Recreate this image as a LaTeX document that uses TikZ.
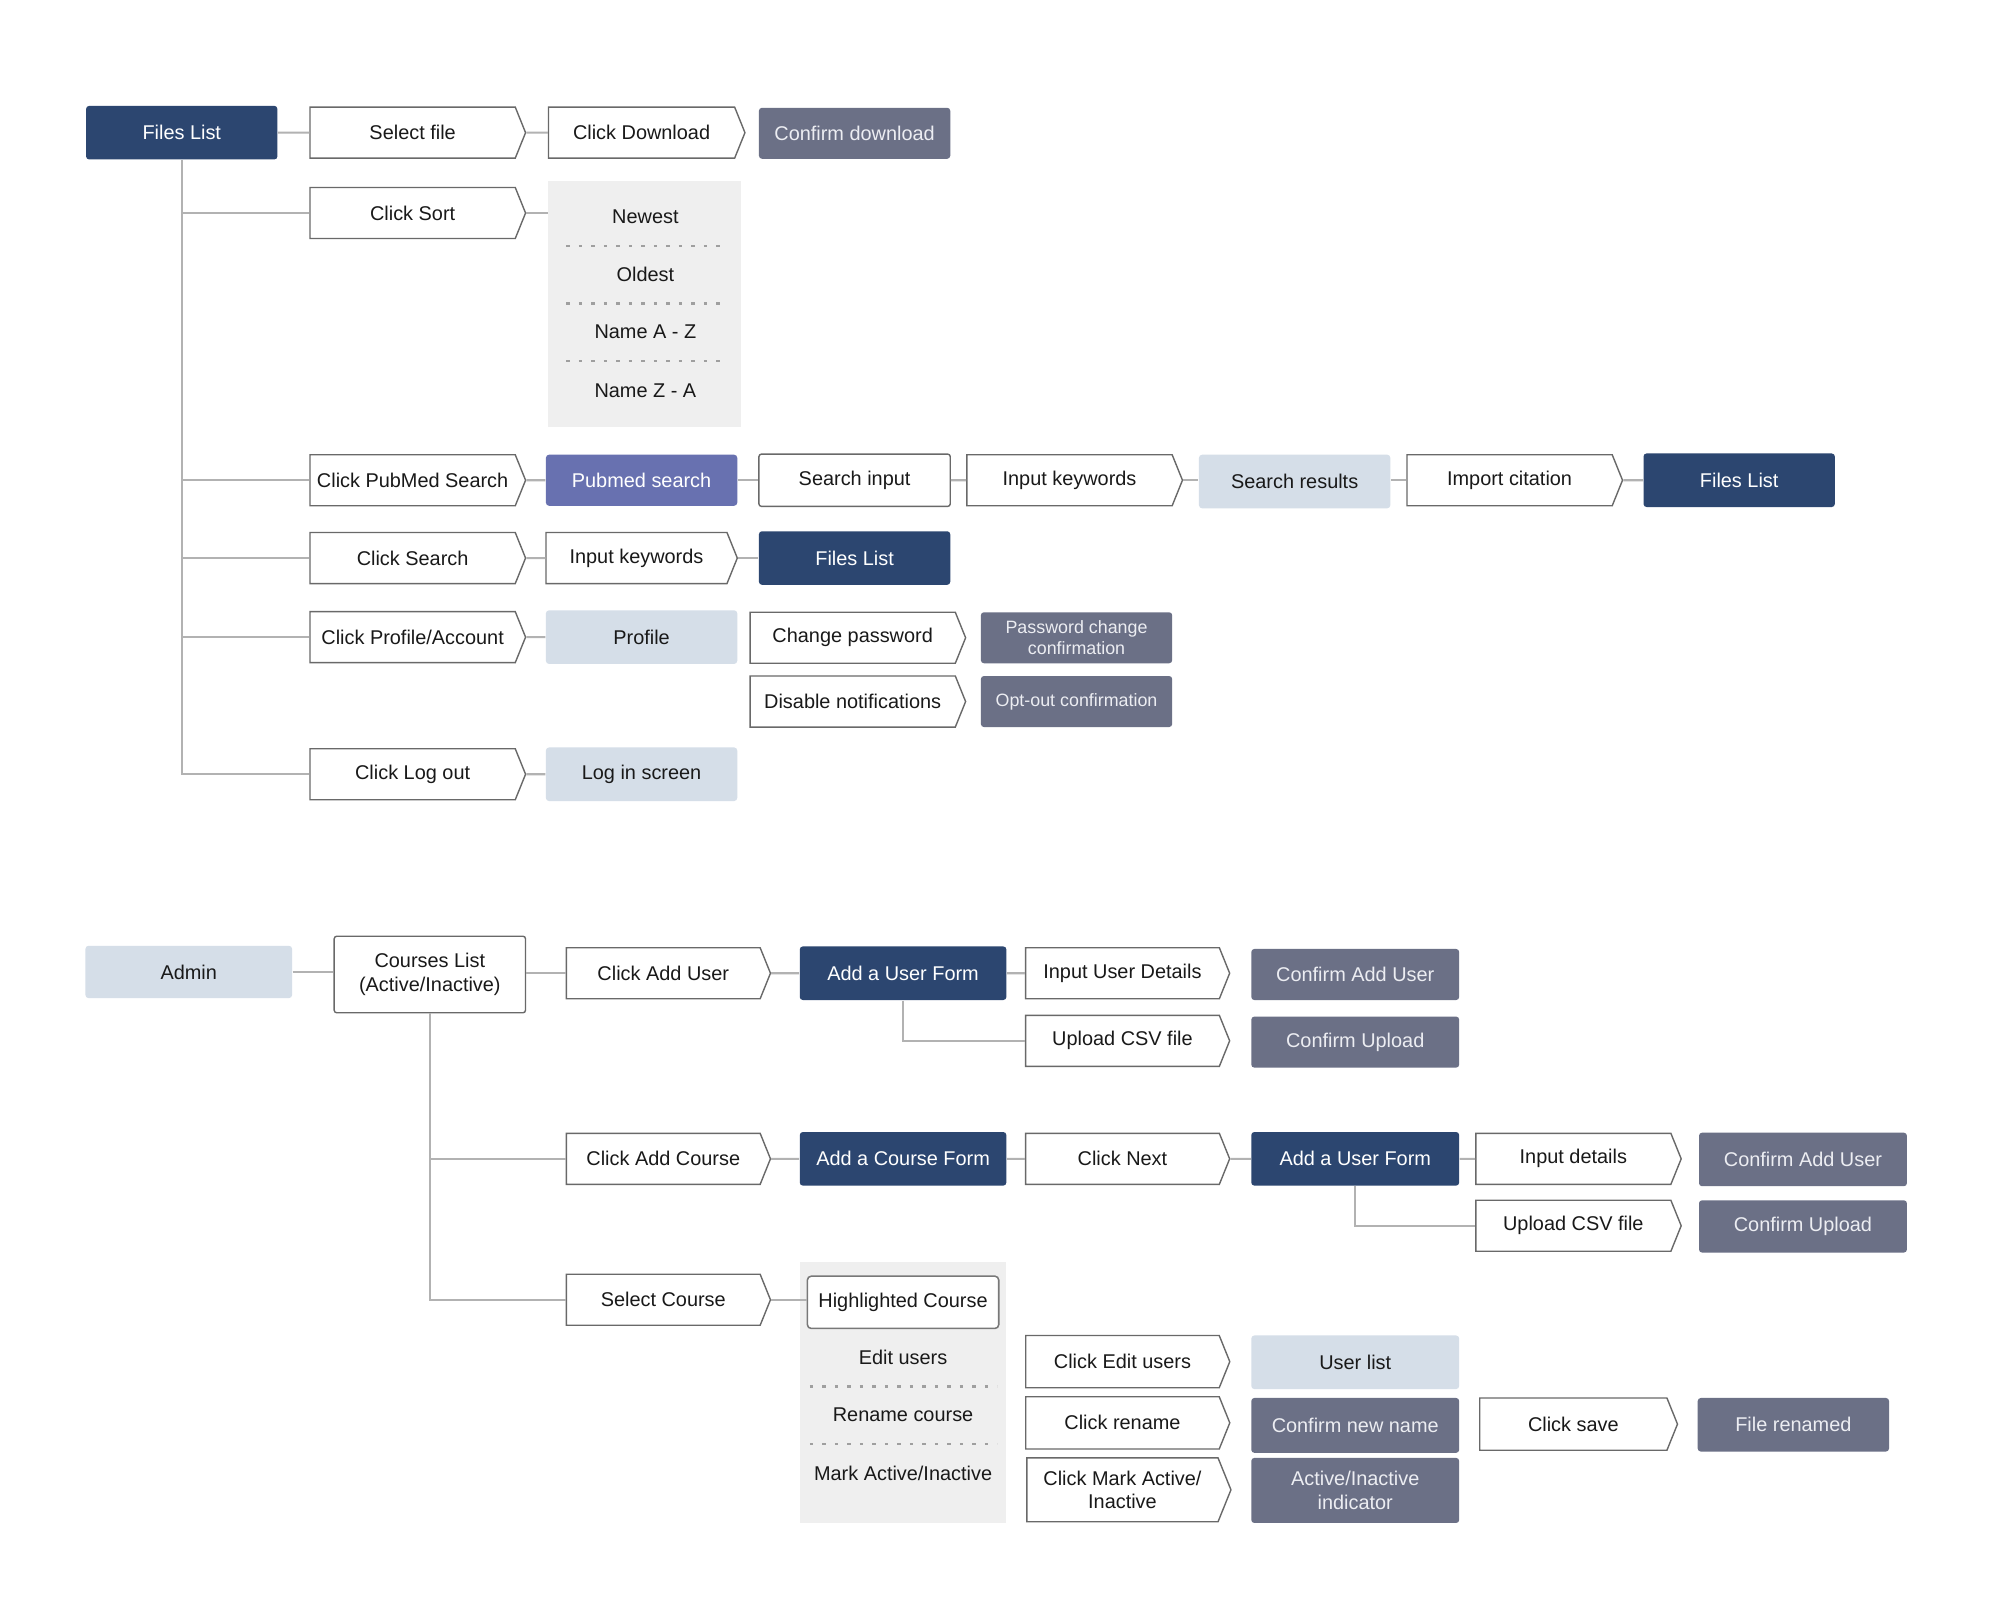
\documentclass[tikz,border=0pt]{standalone}
\usepackage{fontspec}
\setmainfont{Liberation Sans}
\usetikzlibrary{shapes.symbols}
\definecolor{navy}{RGB}{44,70,112}
\definecolor{slate}{RGB}{107,112,134}
\definecolor{purp}{RGB}{104,113,176}
\definecolor{lblue}{RGB}{213,222,232}
\definecolor{panelgray}{RGB}{239,239,239}
\definecolor{bord}{RGB}{105,105,105}
\definecolor{conn}{RGB}{178,178,178}
\definecolor{txt}{RGB}{25,25,25}
\definecolor{slatetxt}{RGB}{236,237,242}
\begin{document}
\begin{tikzpicture}[x=0.5pt,y=-0.5pt,
  base/.style={inner sep=0pt, font=\fontsize{7.8}{9.2}\selectfont, align=center},
  small/.style={font=\fontsize{7}{8.2}\selectfont},
  chev/.style={base, signal, signal to=east, signal pointer angle=136, draw=bord, line width=0.55pt, fill=white, text=txt, minimum width=84.5pt, minimum height=20pt, xshift=-2pt},
  plainbox/.style={base, rectangle, draw=bord, line width=0.55pt, fill=white, rounded corners=1pt, text=txt, minimum width=75pt, minimum height=20.5pt},
  navybox/.style={base, rectangle, fill=navy, text=white, rounded corners=1.2pt, minimum width=75pt, minimum height=21pt},
  slatebox/.style={base, rectangle, fill=slate, text=slatetxt, rounded corners=1.2pt, minimum width=75pt, minimum height=20pt},
  purpbox/.style={base, rectangle, fill=purp, text=white, rounded corners=1.2pt, minimum width=75pt, minimum height=20pt},
  lbox/.style={base, rectangle, fill=lblue, text=txt, rounded corners=1.2pt, minimum width=75pt, minimum height=21pt},
  panel/.style={rectangle, fill=panelgray, inner sep=0pt},
  item/.style={base, text=txt},
  conn/.style={draw=conn, line width=0.8pt},
  sep/.style={draw=gray!75, line width=0.9pt, dash pattern=on 1.3pt off 3.6pt}
]
\useasboundingbox[fill=white] (0,0) rectangle (1568,1254);

% ---------- top section ----------
\node[navybox] (fl1) at (142.5,104) {Files List};
\node[chev] (sf) at (327.5,104) {Select file};
\node[chev, minimum width=77pt] (cd) at (507,104) {Click Download};
\node[slatebox] (cdl) at (670,104.5) {Confirm download};

\node[chev] (cs) at (327.5,167) {Click Sort};
\node[panel, minimum width=75.5pt, minimum height=96.5pt] (sortp) at (505.5,238.5) {};
\node[item] (s1) at (506,170) {Newest};
\node[item] (s2) at (506,215) {Oldest};
\node[item] (s3) at (506,260) {Name A - Z};
\node[item] (s4) at (506,306) {Name Z - A};
\draw[sep] (444,193) -- (567,193);
\draw[sep] (444,238) -- (567,238);
\draw[sep] (444,283) -- (567,283);

\node[chev] (cps) at (327.5,376.5) {Click PubMed Search};
\node[purpbox] (ps) at (503,376.5) {Pubmed search};
\node[plainbox] (si) at (670,376.5) {Search input};
\node[chev] (ik1) at (842.5,376.5) {Input keywords};
\node[lbox] (sr) at (1015,377.5) {Search results};
\node[chev] (ic) at (1187.5,376.5) {Import citation};
\node[navybox] (fl2) at (1363.5,376.5) {Files List};

\node[chev] (cse) at (327.5,437.5) {Click Search};
\node[chev, minimum width=75pt] (ik2) at (503,437.5) {Input keywords};
\node[navybox] (fl3) at (670,437.5) {Files List};

\node[chev] (cpa) at (327.5,499.5) {Click Profile/Account};
\node[lbox] (prof) at (503,499.5) {Profile};
\node[chev] (cp) at (672.5,500) {Change password};
\node[slatebox, small] (pcc) at (844,500) {Password change\\confirmation};
\node[chev] (dn) at (672.5,550) {Disable notifications};
\node[slatebox, small] (ooc) at (844,550) {Opt-out confirmation};

\node[chev] (clo) at (327.5,607) {Click Log out};
\node[lbox] (lis) at (503,607) {Log in screen};

% connectors top
\draw[conn] (fl1) -- (sf);
\draw[conn] (sf) -- (cd);
\draw[conn] (fl1.south) -- (fl1.south |- clo.west) -- (clo.west);
\draw[conn] (fl1.south |- cs.west) -- (cs.west);
\draw[conn] (fl1.south |- cps.west) -- (cps.west);
\draw[conn] (fl1.south |- cse.west) -- (cse.west);
\draw[conn] (fl1.south |- cpa.west) -- (cpa.west);
\draw[conn] (cs.east) -- (sortp.west |- cs.east);
\draw[conn] (cps) -- (ps);
\draw[conn] (ps) -- (si);
\draw[conn] (si) -- (ik1);
\draw[conn] (ik1.east) -- (sr.west |- ik1.east);
\draw[conn] (sr.east |- ic.west) -- (ic.west);
\draw[conn] (ic) -- (fl2);
\draw[conn] (cse) -- (ik2);
\draw[conn] (ik2) -- (fl3);
\draw[conn] (cpa) -- (prof);
\draw[conn] (clo) -- (lis);

% ---------- bottom section ----------
\node[lbox, minimum width=81pt, minimum height=20.5pt] (adm) at (148,762) {Admin};
\node[plainbox, minimum height=30pt] (cl) at (337,764) {Courses List\\(Active/Inactive)};
\node[chev, minimum width=80pt] (cau) at (524,763) {Click Add User};
\node[navybox, minimum width=81pt] (auf1) at (708,763) {Add a User Form};
\node[chev, minimum width=80pt] (iud) at (884,763) {Input User Details};
\node[slatebox, minimum width=81.5pt] (cau1) at (1062.5,764) {Confirm Add User};
\node[chev, minimum width=80pt] (ucsv1) at (884,816) {Upload CSV file};
\node[slatebox, minimum width=81.5pt] (cu1) at (1062.5,817) {Confirm Upload};

\node[chev, minimum width=80pt] (cac) at (524,908.5) {Click Add Course};
\node[navybox, minimum width=81pt] (acf) at (708,908.5) {Add a Course Form};
\node[chev, minimum width=80pt] (cn) at (884,908.5) {Click Next};
\node[navybox, minimum width=81.5pt] (auf2) at (1062.5,908.5) {Add a User Form};
\node[chev, minimum width=80.5pt] (idt) at (1237.5,908.5) {Input details};
\node[slatebox, minimum width=81.5pt, minimum height=21pt] (cau2) at (1413.5,909) {Confirm Add User};
\node[chev, minimum width=80.5pt] (ucsv2) at (1237.5,961) {Upload CSV file};
\node[slatebox, minimum width=81.5pt, minimum height=20.5pt] (cu2) at (1413.5,961.5) {Confirm Upload};

\node[chev, minimum width=80pt] (sc) at (524,1019) {Select Course};
\node[panel, minimum width=81pt, minimum height=102.5pt] (cpanel) at (708,1091.5) {};
\node[plainbox, draw=bord!90, line width=0.6pt, rounded corners=1.5pt] (hc) at (708,1021) {Highlighted Course};
\node[item] (e1) at (708,1064) {Edit users};
\node[item] (e2) at (708,1109) {Rename course};
\node[item] (e3) at (708,1155) {Mark Active/Inactive};
\draw[sep] (635,1087) -- (782,1087);
\draw[sep] (635,1132) -- (782,1132);

\node[chev, minimum width=80pt, minimum height=20.5pt] (ceu) at (884,1067.5) {Click Edit users};
\node[lbox, minimum width=81.5pt] (ul) at (1062.5,1068) {User list};
\node[chev, minimum width=80pt, minimum height=20.5pt] (cr) at (884,1115.5) {Click rename};
\node[slatebox, minimum width=81.5pt, minimum height=21.5pt] (cnn) at (1062.5,1117.5) {Confirm new name};
\node[chev, minimum width=77.5pt, minimum height=20.5pt] (csv) at (1237.5,1116.5) {Click save};
\node[slatebox, minimum height=21pt] (frn) at (1406,1117) {File renamed};
\node[chev, minimum width=80pt, minimum height=25pt] (cma) at (884,1168) {Click Mark Active/\\Inactive};
\node[slatebox, minimum width=81.5pt, minimum height=25.5pt] (aii) at (1062.5,1168.5) {Active/Inactive\\indicator};

% connectors bottom
\draw[conn] (adm.east) -- (cl.west |- adm.east);
\draw[conn] (cl.east |- cau.west) -- (cau.west);
\draw[conn] (cau) -- (auf1);
\draw[conn] (auf1) -- (iud);
\draw[conn] (auf1.south) |- (ucsv1.west);
\draw[conn] (cl.south) -- (cl.south |- sc.west) -- (sc.west);
\draw[conn] (cl.south |- cac.west) -- (cac.west);
\draw[conn] (cac) -- (acf);
\draw[conn] (acf) -- (cn);
\draw[conn] (cn) -- (auf2);
\draw[conn] (auf2) -- (idt);
\draw[conn] (auf2.south) |- (ucsv2.west);
\draw[conn] (sc.east) -- (hc.west |- sc.east);
\end{tikzpicture}
\end{document}
